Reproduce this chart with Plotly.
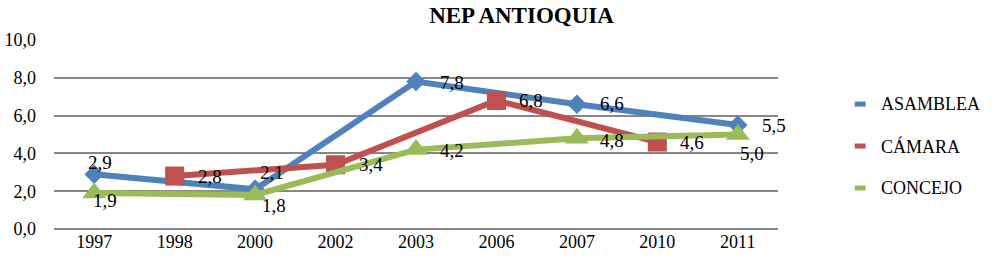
import plotly.graph_objects as go

years = ["1997", "1998", "2000", "2002", "2003", "2006", "2007", "2010", "2011"]
asamblea = [2.9, None, 2.1, None, 7.8, None, 6.6, None, 5.5]
camara = [None, 2.8, None, 3.4, None, 6.8, None, 4.6, None]
concejo = [1.9, None, 1.8, None, 4.2, None, 4.8, None, 5.0]
y_ticks = [0, 2, 4, 6, 8, 10]
series_names = ["ASAMBLEA", "CÁMARA", "CONCEJO"]

FONT = "Liberation Serif"
BLUE, RED, GREEN = "#4F81BD", "#C0504D", "#9BBB59"
colors = [BLUE, RED, GREEN]

# label offsets (pixels, dx right / dy down) for each point of each series
R = (35, 0)
label_offsets = [
    [(6, -12), R, (17, -17), R, (36, 1), R, (35, -1), R, (36, 0)],
    [R] * 9,
    [(11, 7), R, (19, 11), R, (36, 1), R, (35, 2), R, (14, 19)],
]

fig = go.Figure()

def add(name, vals, color, symbol, msize, offsets):
    fig.add_trace(go.Scatter(
        x=years, y=vals, name=name, mode="lines+markers",
        connectgaps=True, showlegend=False,
        line=dict(color=color, width=6),
        marker=dict(symbol=symbol, size=msize, color=color),
        cliponaxis=False,
    ))
    for i, (yv, (dx, dy)) in enumerate(zip(vals, offsets)):
        if yv is None:
            continue
        fig.add_annotation(x=i, y=yv, xref="x", yref="y", text=f"{yv:.1f}".replace(".", ","),
                           showarrow=False, xshift=dx, yshift=-dy,
                           xanchor="center", yanchor="middle",
                           font=dict(family=FONT, size=19, color="black"))

add(series_names[0], asamblea, BLUE, "diamond", 15, label_offsets[0])
add(series_names[1], camara, RED, "square", 19, label_offsets[1])
add(series_names[2], concejo, GREEN, "triangle-up", 21, label_offsets[2])

# legend (short stub + label)
leg_y = [0.661, 0.439, 0.217]
for n, c, yy in zip(series_names, colors, leg_y):
    fig.add_shape(type="line", xref="paper", yref="paper",
                  x0=1.106, x1=1.121, y0=yy, y1=yy,
                  line=dict(color=c, width=5))
    fig.add_annotation(xref="paper", yref="paper", x=1.139, y=yy, xanchor="left",
                       yanchor="middle", text=n, showarrow=False,
                       font=dict(family=FONT, size=18, color="black"))

fig.update_layout(
    width=1001, height=266,
    margin=dict(l=54, r=223, t=40, b=37),
    paper_bgcolor="white", plot_bgcolor="white",
    separators=",.",
    title=dict(text="<b>NEP ANTIOQUIA</b>", x=0.521, xanchor="center", y=0.945, yanchor="middle",
               font=dict(family=FONT, size=23, color="black")),
    font=dict(family=FONT, size=18, color="black"),
    showlegend=False,
)
fig.update_xaxes(type="category", range=[-0.5, 8.5], showgrid=False, showline=False,
                 ticks="", tickfont=dict(family=FONT, size=18), automargin=False)
fig.update_yaxes(range=[0, 10], tickvals=y_ticks, tickformat=".1f", showgrid=True,
                 gridcolor="#878787", gridwidth=2, zeroline=True, zerolinecolor="#878787",
                 zerolinewidth=2, ticks="", ticklabelstandoff=17, automargin=False,
                 tickfont=dict(family=FONT, size=18))

fig.write_html("out.html", config={"displayModeBar": False},
               post_script="document.body.style.margin='0px';")
